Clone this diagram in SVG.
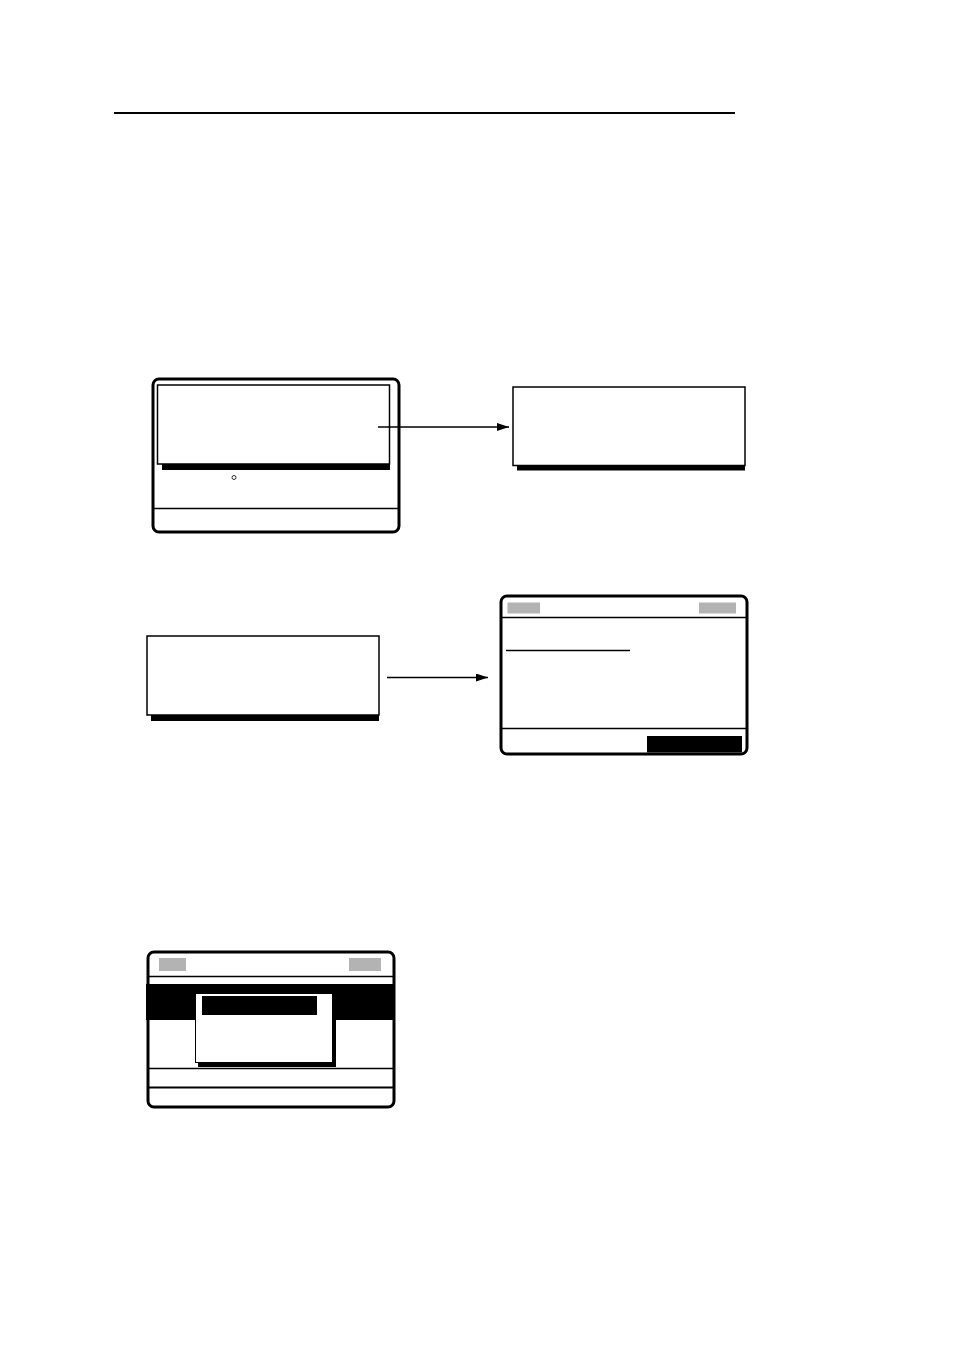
<svg xmlns="http://www.w3.org/2000/svg" width="954" height="1350" viewBox="0 0 954 1350">
<style>
.frame{fill:#fff;stroke:#000;stroke-width:3}
.box{fill:#fff;stroke:#000;stroke-width:1.5}
.ln{stroke:#000;stroke-width:1.5;fill:none}
.gray{fill:#b3b3b3}
.blk{fill:#000}
</style>
<defs>
<marker id="ah" markerWidth="12" markerHeight="8" refX="12" refY="4" orient="auto" markerUnits="userSpaceOnUse">
<path d="M0,0 L12,4 L0,8 Z" fill="#000"/>
</marker>
</defs>
<rect width="954" height="1350" fill="#fff"/>
<line x1="114" y1="113" x2="735" y2="113" stroke="#000" stroke-width="2"/>

<g id="screen1">
<rect class="frame" x="153" y="379" width="246" height="153" rx="6"/>
<rect class="blk" x="162" y="463" width="228" height="7"/>
<rect class="box" x="157.5" y="385" width="232" height="79" stroke-width="1"/>
<circle cx="234" cy="477.5" r="2" fill="#fff" stroke="#000" stroke-width="0.8"/>
<line class="ln" x1="153" y1="508.5" x2="399" y2="508.5"/>
</g>

<g id="popup1">
<rect class="blk" x="517" y="463" width="228" height="7.5"/>
<rect class="box" x="513" y="387" width="232" height="78.5"/>
</g>

<g id="popup2">
<rect class="blk" x="151" y="713" width="228" height="8"/>
<rect class="box" x="147" y="636" width="232" height="79"/>
</g>

<g id="screen2">
<rect class="frame" x="501" y="596" width="246" height="158" rx="6"/>
<rect class="gray" x="507.5" y="602.5" width="32.5" height="11"/>
<rect class="gray" x="699" y="602.5" width="37" height="11"/>
<line class="ln" x1="501" y1="617.5" x2="747" y2="617.5"/>
<line class="ln" x1="506" y1="650.5" x2="630" y2="650.5"/>
<line class="ln" x1="501" y1="728.5" x2="747" y2="728.5"/>
<rect class="blk" x="647" y="736" width="95" height="16.5"/>
</g>

<g id="screen3">
<rect class="frame" x="148" y="952" width="246" height="155" rx="6"/>
<rect class="gray" x="159" y="958" width="27" height="13"/>
<rect class="gray" x="349" y="958" width="32" height="13"/>
<line class="ln" x1="148" y1="976.5" x2="394" y2="976.5"/>
<rect class="blk" x="146" y="984" width="249" height="36"/>
<rect class="blk" x="198" y="1000" width="138" height="67"/>
<rect fill="#fff" stroke="#000" stroke-width="1" x="195.5" y="993.5" width="137" height="69"/>
<rect class="blk" x="202" y="996" width="115" height="19"/>
<line class="ln" x1="148" y1="1068.5" x2="394" y2="1068.5"/>
<line x1="148" y1="1087.5" x2="394" y2="1087.5" stroke="#000" stroke-width="2"/>
</g>

<g id="connectors">
<line class="ln" x1="378" y1="427" x2="509" y2="427" marker-end="url(#ah)"/>
<line class="ln" x1="387" y1="677.5" x2="488" y2="677.5" marker-end="url(#ah)"/>
</g>
</svg>
